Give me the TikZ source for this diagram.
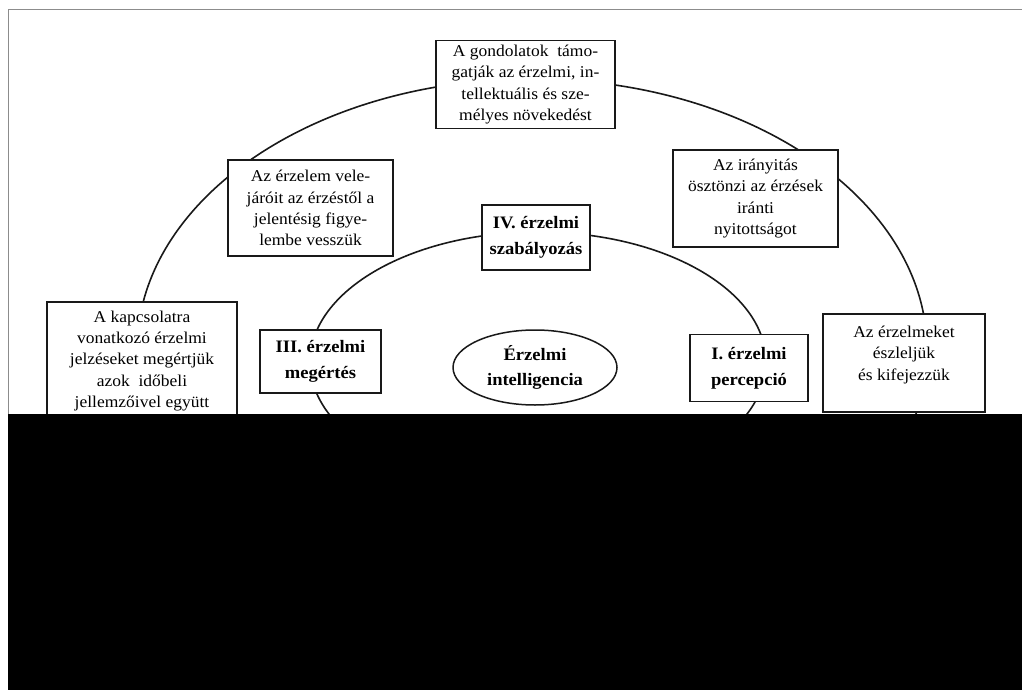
\documentclass[tikz,border=0pt]{standalone}
\usepackage{fontspec}
\setmainfont[FakeStretch=1.06]{Liberation Serif}
\usetikzlibrary{shapes.geometric}
\begin{document}
\begin{tikzpicture}[x=1pt,y=-1pt,
  frameline/.style={draw=black!45, line width=1pt},
  curve/.style={draw=black!90, line width=1.6pt},
  box/.style={draw=black!90, line width=1.5pt, fill=white, align=center, inner sep=0pt,
    font=\fontsize{16.5}{21.3}\selectfont},
  bbox/.style={box, font=\fontsize{17.5}{26}\selectfont\bfseries},
  txt/.style={align=center, inner sep=0pt, font=\fontsize{16.5}{21.3}\selectfont},
  core/.style={ellipse, draw=black!90, line width=1.5pt, fill=white, align=center, inner sep=0pt,
    minimum width=164pt, minimum height=75pt, font=\fontsize{17.5}{25}\selectfont\bfseries},
  mask/.style={fill=black}]
\useasboundingbox (0,0) rectangle (1022,690);
\fill[white] (0,0) rectangle (1022,690);
\draw[frameline] (8,9.5) -- (1022,9.5);
\draw[frameline] (8,9.5) -- (8,414);
% the two rings
\draw[curve] (532,350) ellipse [x radius=395pt, y radius=271pt];
\draw[curve] (538,362) ellipse [x radius=228pt, y radius=130pt];
% outer boxes
\node[box, minimum width=179pt, minimum height=88pt] (top) at (525.5,84.5)
  {A gondolatok~~támo-\\gatják az érzelmi, in-\\tellektuális és sze-\\mélyes növekedést};
\node[box, minimum width=165pt, minimum height=96pt] (lefttwo) at (310.5,208)
  {Az érzelem vele-\\járóit az érzéstől a\\jelentésig figye-\\lembe vesszük};
\node[box, minimum width=165pt, minimum height=97pt] (righttwo) at (755.5,198.5)
  {Az irányitás\\ösztönzi az érzések\\iránti\\nyitottságot};
\node[box, minimum width=190pt, minimum height=126pt] (leftthree) at (142,365) {};
\node[txt] (leftthreetext) at (142,361)
  {A kapcsolatra\\vonatkozó érzelmi\\jelzéseket megértjük\\azok~~időbeli\\jellemzőivel együtt};
\node[box, minimum width=162pt, minimum height=98pt] (rightthree) at (904,363) {};
\node[txt] (rightthreetext) at (904,355) {Az érzelmeket\\észleljük\\és kifejezzük};
% inner boxes
\node[bbox, minimum width=108pt, minimum height=65pt] (four) at (536,237.5) {IV. érzelmi\\szabályozás};
\node[bbox, minimum width=121pt, minimum height=63pt] (three) at (320.5,361.5) {III. érzelmi\\megértés};
\node[bbox, minimum width=118pt, minimum height=67pt] (one) at (749,368) {I. érzelmi\\percepció};
\node[core] (ei) at (535,367.5) {Érzelmi\\intelligencia};
% black mask
\fill[mask] (8,413.5) rectangle (1022,690);
\end{tikzpicture}
\end{document}
